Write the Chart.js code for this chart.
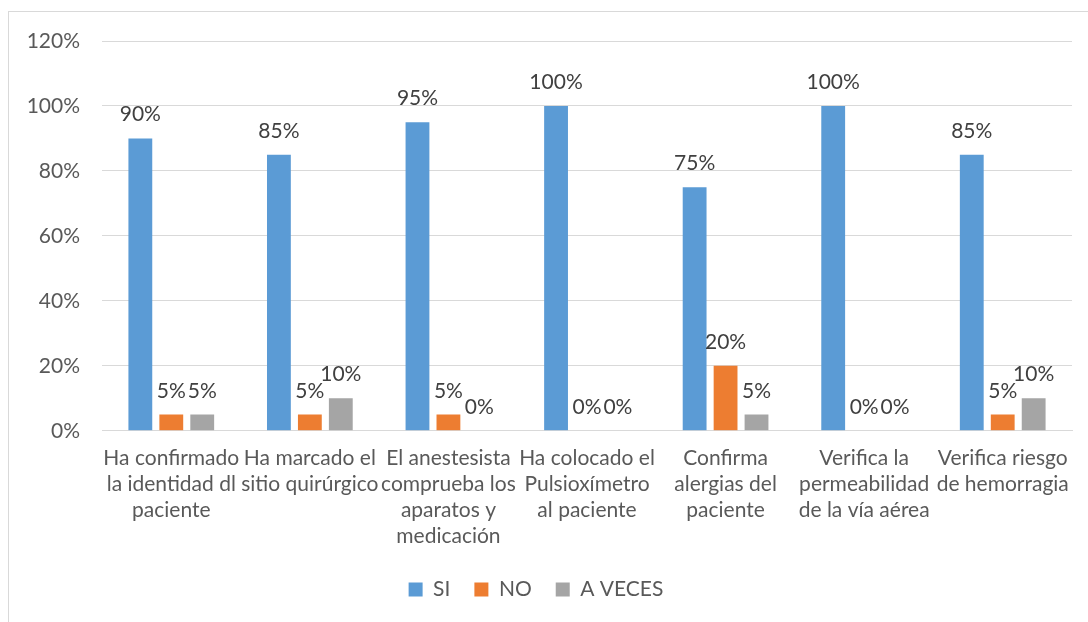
<!DOCTYPE html>
<html>
<head>
<meta charset="utf-8">
<script src="https://cdn.jsdelivr.net/npm/chart.js@4.4.1/dist/chart.umd.min.js"></script>
<style>
  body { margin: 0; background: #fff; }
  #wrap { position: relative; width: 1088px; height: 622px; overflow: hidden; }
  #frame { position: absolute; left: 8px; top: 11px; width: 1200px; height: 700px; border: 1px solid #d9d9d9; pointer-events: none; }
</style>
</head>
<body>
<div id="wrap">
  <canvas id="chart" width="1088" height="622"></canvas>
  <div id="frame"></div>
</div>
<script>
const categories = [
    ['Ha confirmado', 'la identidad dl', 'paciente'],
    ['Ha marcado el', 'sitio quirúrgico'],
    ['El anestesista', 'comprueba los', 'aparatos y', 'medicación'],
    ['Ha colocado el', 'Pulsioxímetro', 'al paciente'],
    ['Confirma', 'alergias del', 'paciente'],
    ['Verifica la', 'permeabilidad', 'de la vía aérea'],
    ['Verifica riesgo', 'de hemorragia']
];
const siValues = [90, 85, 95, 100, 75, 100, 85];
const noValues = [5, 5, 5, 0, 20, 0, 5];
const aVecesValues = [5, 10, 0, 0, 5, 0, 10];
const yTicks = [0, 20, 40, 60, 80, 100, 120];

const FONT = 'Lato, "Liberation Sans", sans-serif';

// draws the value labels above each bar, like Excel does
const barLabels = {
    id: 'barLabels',
    afterDatasetsDraw(chart) {
        const ctx = chart.ctx;
        ctx.save();
        ctx.font = '21px ' + FONT;
        ctx.fillStyle = '#404040';
        ctx.textAlign = 'center';
        ctx.textBaseline = 'alphabetic';
        chart.data.datasets.forEach((ds, i) => {
            chart.getDatasetMeta(i).data.forEach((bar, j) => {
                ctx.fillText(ds.data[j] + '%', bar.x, bar.y - 17);
            });
        });
        ctx.restore();
    }
};

new Chart(document.getElementById('chart').getContext('2d'), {
    type: 'bar',
    data: {
        labels: categories,
        datasets: [
            { label: 'SI', data: siValues, backgroundColor: '#5B9BD5' },
            { label: 'NO', data: noValues, backgroundColor: '#ED7D31' },
            { label: 'A VECES', data: aVecesValues, backgroundColor: '#A5A5A5' }
        ]
    },
    options: {
        responsive: false,
        animation: false,
        categoryPercentage: 0.67,
        barPercentage: 0.77,
        layout: { padding: { left: 0, right: 16, top: 41, bottom: 12 } },
        plugins: {
            tooltip: { enabled: false },
            legend: {
                position: 'bottom',
                labels: {
                    boxWidth: 14, boxHeight: 14, padding: 24,
                    color: '#595959',
                    font: { family: FONT, size: 21 }
                }
            }
        },
        scales: {
            x: {
                grid: { display: false },
                border: { color: '#d9d9d9' },
                ticks: {
                    color: '#595959', maxRotation: 0, autoSkip: false, padding: 6,
                    font: { family: FONT, size: 21, lineHeight: 1.24 }
                }
            },
            y: {
                min: 0, max: 120,
                afterFit(scale) { scale.width = 102; },
                afterBuildTicks(scale) { scale.ticks = yTicks.map(v => ({ value: v })); },
                grid: { color: '#d9d9d9', drawTicks: false },
                border: { display: false },
                ticks: {
                    color: '#595959', padding: 22,
                    font: { family: FONT, size: 21 },
                    callback: v => v + '%'
                }
            }
        }
    },
    plugins: [barLabels]
});
</script>
</body>
</html>
